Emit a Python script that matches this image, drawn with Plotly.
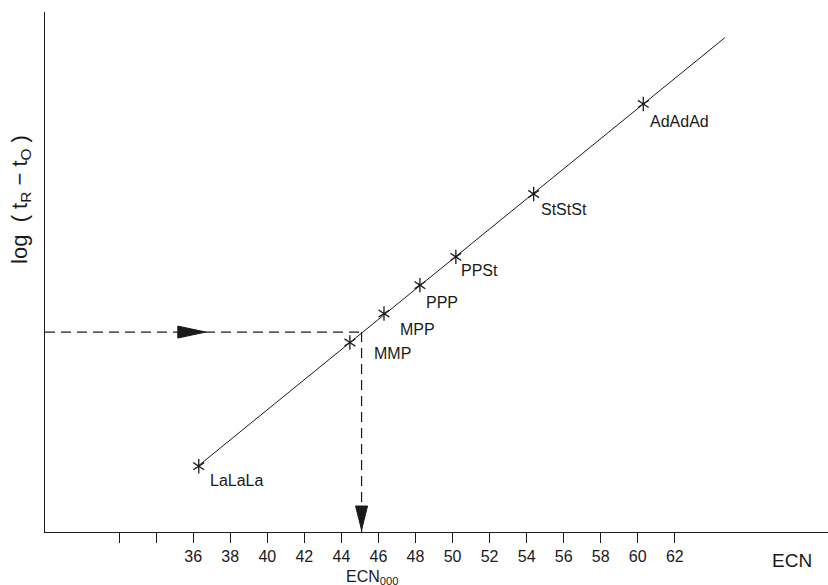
import numpy as np
import plotly.graph_objects as go

# ---- data ----
species = ["LaLaLa", "MMP", "MPP", "PPP", "PPSt", "StStSt", "AdAdAd"]
ecn = [36.3, 44.46, 46.3, 48.24, 50.18, 54.38, 60.3]
log_tr_t0 = [0.252, 0.726, 0.837, 0.946, 1.054, 1.295, 1.640]

# read-out of the unknown (ECN_000) from the line
unknown_log = 0.766
unknown_ecn = 45.09

line_end_ecn = 64.7

tick_vals = list(range(32, 63, 2))
tick_text = ["" if v < 36 else str(v) for v in tick_vals]

# label offsets in pixels (dx, dy-down) relative to the marker
label_offsets = [(9, 14), (22, 11), (14, 16), (4, 17), (3, 14), (5, 15), (5, 18)]

INK = "#1a1a1a"
FONT = "Liberation Sans"

# regression line through the standards
slope, intercept = np.polyfit(ecn, log_tr_t0, 1)
lx = np.array([ecn[0], line_end_ecn])
ly = slope * lx + intercept

fig = go.Figure()

fig.add_trace(go.Scatter(x=lx, y=ly, mode="lines",
                         line=dict(color=INK, width=1), hoverinfo="skip"))
# six-spoke asterisk = y-up + y-down
for sym in ("y-up-open", "y-down-open"):
    fig.add_trace(go.Scatter(x=ecn, y=log_tr_t0, mode="markers",
                             marker=dict(symbol=sym, size=9, color=INK,
                                         line=dict(color=INK, width=1.3)),
                             text=species, hoverinfo="text"))

# dashed read-out lines
fig.add_trace(go.Scatter(x=[28, unknown_ecn], y=[unknown_log, unknown_log], mode="lines",
                         line=dict(color=INK, width=1.2, dash="10px,6px"), hoverinfo="skip"))
fig.add_trace(go.Scatter(x=[unknown_ecn, unknown_ecn], y=[unknown_log, 0], mode="lines",
                         line=dict(color=INK, width=1.2, dash="10px,6px"), hoverinfo="skip"))

# arrowheads (pixel-sized paths anchored in data space)
fig.add_shape(type="path", xref="x", yref="y", xsizemode="pixel", ysizemode="pixel",
              xanchor=36.68, yanchor=unknown_log,
              path="M 0,0 L -28,6 L -28,-6 Z", fillcolor=INK, line=dict(color=INK, width=1))
fig.add_shape(type="path", xref="x", yref="y", xsizemode="pixel", ysizemode="pixel",
              xanchor=unknown_ecn, yanchor=0,
              path="M 0,2 L -6,26 L 6,26 Z", fillcolor=INK, line=dict(color=INK, width=1))

# point labels
for name, x, y, (dx, dy) in zip(species, ecn, log_tr_t0, label_offsets):
    fig.add_annotation(x=x, y=y, xref="x", yref="y", text=name, showarrow=False,
                       xanchor="left", yanchor="middle", xshift=dx, yshift=-dy,
                       font=dict(family=FONT, size=16, color=INK))

# ECN_000 label under the read-out arrow
fig.add_annotation(x=44.12, y=-0.066, xref="x", yref="paper", text="ECN<sub>000</sub>",
                   showarrow=False, xanchor="left", yanchor="top",
                   font=dict(family=FONT, size=16, color=INK))

# axis titles
fig.add_annotation(x=0.926, y=-0.054, xref="paper", yref="paper", text="ECN",
                   showarrow=False, xanchor="left", yanchor="middle",
                   font=dict(family=FONT, size=19, color=INK))
fig.add_annotation(x=-0.0310, y=0.64, xref="paper", yref="paper",
                   text="log\u00a0\u00a0(\u00a0t<sub>R</sub>\u00a0−\u00a0t<sub>O</sub>\u00a0)",
                   textangle=-90,
                   showarrow=False, xanchor="center", yanchor="middle",
                   font=dict(family=FONT, size=22, color=INK))

fig.update_layout(
    width=828, height=585,
    margin=dict(l=45, r=0, t=12, b=53),
    paper_bgcolor="white", plot_bgcolor="white",
    showlegend=False,
    font=dict(family=FONT, color=INK),
    xaxis=dict(range=[28, 70.27], showline=True, linecolor=INK, linewidth=1,
               tickmode="array", tickvals=tick_vals, ticktext=tick_text,
               ticks="outside", ticklen=10, tickcolor=INK, tickwidth=1,
               tickfont=dict(family=FONT, size=16, color=INK),
               showgrid=False, zeroline=False),
    yaxis=dict(range=[0, 520 / 261], showline=True, linecolor=INK, linewidth=1,
               showticklabels=False, ticks="", showgrid=False, zeroline=False),
)

fig.write_html("out.html", config={"displayModeBar": False},
               post_script="document.body.style.margin='0';document.body.style.overflow='hidden';")
